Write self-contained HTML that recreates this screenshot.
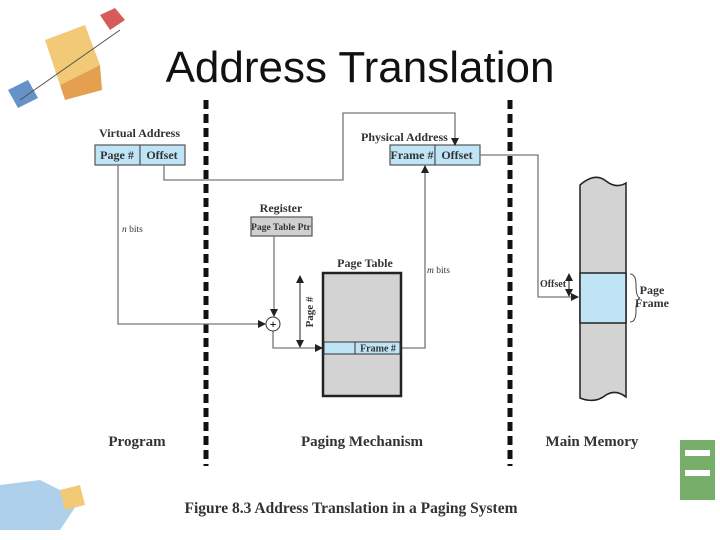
<!DOCTYPE html>
<html><head><style>body{margin:0;background:#fff}svg{display:block}</style></head><body>
<svg width="720" height="540" viewBox="0 0 720 540" xmlns="http://www.w3.org/2000/svg" font-family="Liberation Serif, serif">
<defs><marker id="a" markerWidth="8" markerHeight="8" refX="7" refY="4" orient="auto" markerUnits="userSpaceOnUse"><path d="M0,0 L8,4 L0,8 z" fill="#222"/></marker>
<marker id="b" markerWidth="8" markerHeight="8" refX="1" refY="4" orient="auto" markerUnits="userSpaceOnUse"><path d="M8,0 L0,4 L8,8 z" fill="#222"/></marker></defs>
<g opacity="0.85">
<polygon points="45,40 85,25 100,65 60,85" fill="#f0c060"/>
<polygon points="60,85 100,65 102,90 65,100" fill="#e09030"/>
<polygon points="100,15 115,8 125,20 110,30" fill="#d04040"/>
<polygon points="8,90 28,80 38,98 18,108" fill="#4a80c0"/>
<line x1="20" y1="100" x2="120" y2="30" stroke="#333"/>
<polygon points="0,485 40,480 80,500 60,530 0,530" fill="#a0c8e8"/>
<polygon points="60,490 80,485 85,505 65,510" fill="#f0c060"/>
<rect x="680" y="440" width="35" height="60" fill="#60a050"/>
<rect x="685" y="450" width="25" height="6" fill="#fff"/><rect x="685" y="470" width="25" height="6" fill="#fff"/>
</g>
<text x="360" y="82" font-family="Liberation Sans, sans-serif" font-size="44" text-anchor="middle" fill="#111">Address Translation</text>
<g stroke="#111" stroke-width="5" stroke-dasharray="9,5"><line x1="206" y1="100" x2="206" y2="466"/><line x1="510" y1="100" x2="510" y2="466"/></g>
<g font-weight="bold" fill="#333" font-size="12">
<text x="99" y="137">Virtual Address</text>
<text x="361" y="141">Physical Address</text>
<text x="281" y="212" text-anchor="middle">Register</text>
<text x="365" y="267" text-anchor="middle">Page Table</text>
<text x="652" y="294" text-anchor="middle">Page</text>
<text x="652" y="307" text-anchor="middle">Frame</text>
</g>
<g stroke="#555" stroke-width="1.2" fill="#bfe4f5">
<rect x="95" y="145" width="45" height="20"/><rect x="140" y="145" width="45" height="20"/>
<rect x="390" y="145" width="45" height="20"/><rect x="435" y="145" width="45" height="20"/>
<rect x="251" y="217" width="61" height="19" fill="#d0d0d0"/>
</g>
<g stroke="#777" stroke-width="1.3" fill="none">
<polyline points="164,165 164,180 343,180 343,113 455,113 455,145" marker-end="url(#a)"/>
<polyline points="480,155 538,155 538,297 578,297" marker-end="url(#a)"/>
<polyline points="118,165 118,324 265,324" marker-end="url(#a)"/>
<polyline points="274,236 274,316" marker-end="url(#a)"/>
<polyline points="273,331 273,348 322,348" marker-end="url(#a)"/>
<polyline points="401,348 425,348 425,166" marker-end="url(#a)"/>
</g>
<line x1="300" y1="276" x2="300" y2="347" stroke="#222" marker-start="url(#b)" marker-end="url(#a)"/>
<line x1="569" y1="274" x2="569" y2="296" stroke="#222" marker-start="url(#b)" marker-end="url(#a)"/>
<circle cx="273" cy="324" r="7" fill="#fff" stroke="#333"/>
<text x="273" y="328" font-size="12" font-weight="bold" text-anchor="middle">+</text>
<rect x="323" y="273" width="78" height="123" fill="#d3d3d3" stroke="#222" stroke-width="2.5"/>
<rect x="324" y="342" width="76" height="12" fill="#bfe4f5" stroke="#333"/>
<line x1="355" y1="342" x2="355" y2="354" stroke="#333"/>
<path d="M580,185 Q595,172 606,181 Q616,189 626,183 L626,397 Q616,389 606,395 Q595,404 580,398 Z" fill="#d3d3d3" stroke="#222" stroke-width="1.5"/>
<rect x="580" y="273" width="46" height="50" fill="#bfe4f5" stroke="#222" stroke-width="1.5"/>
<path d="M630,274 Q636,274 636,285 Q636,297 640,298 Q636,299 636,311 Q636,322 630,322" fill="none" stroke="#444"/>
<g font-weight="bold" font-size="12" fill="#333" text-anchor="middle">
<text x="117" y="159">Page #</text><text x="162" y="159">Offset</text>
<text x="412" y="159">Frame #</text><text x="457" y="159">Offset</text>
<text x="281" y="230" font-size="9.5">Page Table Ptr</text>
<text x="378" y="351.5" font-size="10">Frame #</text>
<text x="553" y="287" font-size="10">Offset</text>
</g>
<g font-size="9.5" fill="#333" font-style="italic"><text x="122" y="232">n <tspan font-style="normal">bits</tspan></text><text x="427" y="273">m <tspan font-style="normal">bits</tspan></text></g>
<text transform="translate(313,312) rotate(-90)" font-size="11" font-weight="bold" fill="#333" text-anchor="middle">Page #</text>
<g font-weight="bold" font-size="15" fill="#333" text-anchor="middle">
<text x="137" y="446">Program</text><text x="362" y="446">Paging Mechanism</text><text x="592" y="446">Main Memory</text>
</g>
<text x="351" y="513" font-weight="bold" font-size="15.5" fill="#333" text-anchor="middle">Figure 8.3   Address Translation in a Paging System</text>
</svg>
</body></html>
